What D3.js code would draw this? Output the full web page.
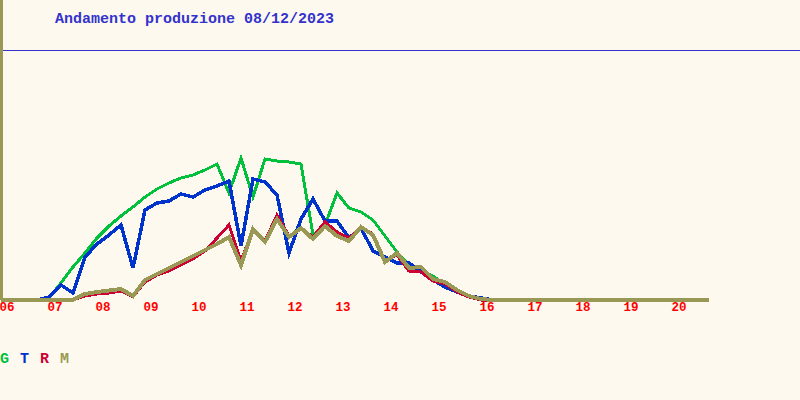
<!DOCTYPE html>
<html>
<head>
<meta charset="utf-8">
<script src="https://cdn.jsdelivr.net/npm/d3@7"></script>
<style>
  html, body { margin: 0; padding: 0; background: #FDF9EE; }
  svg { display: block; }
</style>
</head>
<body>
<svg id="chart" width="800" height="400"></svg>
<script>
const title = "Andamento produzione 08/12/2023";
const hourLabels = ["06","07","08","09","10","11","12","13","14","15","16","17","18","19","20"];
const seriesNames = ["G", "T", "R", "M"];
const seriesColors = ["#00C03C", "#0033CC", "#CC0033", "#999955"];

// 15-minute samples from 06:00 to 20:45 (relative production)
const G = [0,0,0,0,2,17,33,47,62,74,84,93,103,111,117,122,125,130,136,107,142,103,141,139,138,136,65,75,107,92,88,80,64,48,35,29,24,16,9,4,1,0,0,0,0,0,0,0,0,0,0,0,0,0,0,0,0,0,0,0];
const T = [0,0,0,0,3,15,7,43,56,65,75,32,90,97,99,106,103,110,114,119,54,121,118,105,47,81,101,79,79,62,72,49,43,37,37,28,20,13,8,4,2,0,0,0,0,0,0,0,0,0,0,0,0,0,0,0,0,0,0,0];
const R = [0,0,0,0,0,0,0,4,6,7,9,3,18,25,29,35,41,49,62,75,39,71,59,85,64,72,63,78,68,62,73,66,39,45,29,28,19,16,8,3,0,0,0,0,0,0,0,0,0,0,0,0,0,0,0,0,0,0,0,0];
const M = [0,0,0,0,0,0,0,6,8,9.5,11,4,20,26,32,38,44,50,56,63,35,71,58,81,63,72,61,74,64,59,73,65,38,47,32,33,21,18,10,4,1,0,0,0,0,0,0,0,0,0,0,0,0,0,0,0,0,0,0,0];

const startMin = 6 * 60, stepMin = 15;
const times = d3.range(G.length).map(i => startMin + i * stepMin);

const svg = d3.select("#chart");
const x = d3.scaleLinear().domain([startMin, startMin + 59 * stepMin]).range([1, 709]);
const y = d3.scaleLinear().domain([0, 250]).range([300, 50]);

// top reference line
svg.append("line")
  .attr("x1", 3).attr("x2", 800)
  .attr("y1", y(250) + 0.5).attr("y2", y(250) + 0.5)
  .attr("stroke", "#3333CC").attr("stroke-width", 1)
  .attr("shape-rendering", "crispEdges");

// left axis
svg.append("rect")
  .attr("x", 0).attr("y", 0).attr("width", 3).attr("height", y(0))
  .attr("fill", "#999955");

// title
svg.append("text")
  .attr("x", 55).attr("y", 23)
  .attr("font-family", "'Liberation Mono', 'DejaVu Sans Mono', monospace")
  .attr("font-weight", "bold")
  .attr("font-size", 15)
  .attr("fill", "#3333CC")
  .text(title);

// series
const line = d3.line()
  .x((d, i) => x(times[i]))
  .y(d => y(d));

const data = [G, T, R, M];
const widths = [3, 3.5, 3, 4];
data.forEach((s, si) => {
  svg.append("path")
    .datum(s)
    .attr("d", line)
    .attr("fill", "none")
    .attr("stroke", seriesColors[si])
    .attr("stroke-width", widths[si])
    .attr("stroke-linejoin", "miter")
    .attr("shape-rendering", "crispEdges");
});

// hour tick labels
svg.append("g").selectAll("text")
  .data(hourLabels)
  .join("text")
  .attr("x", d => x(+d * 60) - 1.5)
  .attr("y", 311)
  .attr("font-family", "'Liberation Mono', 'DejaVu Sans Mono', monospace")
  .attr("font-weight", "bold")
  .attr("font-size", 12.5)
  .attr("fill", "#FF0000")
  .text(d => d);

// legend
svg.append("g").selectAll("text")
  .data(seriesNames)
  .join("text")
  .attr("x", (d, i) => i * 20)
  .attr("y", 363)
  .attr("font-family", "'Liberation Mono', 'DejaVu Sans Mono', monospace")
  .attr("font-weight", "bold")
  .attr("font-size", 15)
  .attr("fill", (d, i) => seriesColors[i])
  .text(d => d);
</script>
</body>
</html>
